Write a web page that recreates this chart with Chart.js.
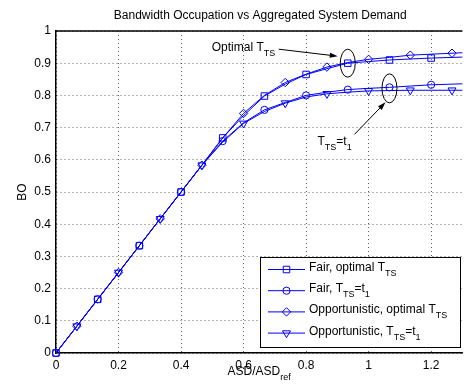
<!DOCTYPE html>
<html>
<head>
<meta charset="utf-8">
<style>
html, body { margin: 0; padding: 0; overflow: hidden; background: #fff; }
</style>
<script src="https://cdn.jsdelivr.net/npm/chart.js@4.4.1/dist/chart.umd.min.js"></script>
</head>
<body>
<canvas id="boChart" width="468" height="387"></canvas>
<script>
// ASD/ASD_ref sample points
var asd = [0, 0.0667, 0.1333, 0.2, 0.2667, 0.3333, 0.4, 0.4667, 0.5333, 0.6, 0.6667,
           0.7333, 0.8, 0.8667, 0.9333, 1.0, 1.0667, 1.1333, 1.2, 1.2667, 1.3333];

// bandwidth occupation per scheme
var fairOpt = [0, 0.0833, 0.1667, 0.25, 0.3333, 0.4167, 0.5, 0.5833, 0.668, 0.737, 0.798,
               0.835, 0.865, 0.883, 0.900, 0.905, 0.910, 0.913, 0.916, 0.918, 0.920];
var fairT1 = [0, 0.0833, 0.1667, 0.25, 0.3333, 0.4167, 0.5, 0.5833, 0.658, 0.715, 0.755,
              0.778, 0.800, 0.810, 0.818, 0.822, 0.825, 0.829, 0.833, 0.835, 0.837];
var oppOpt = [0, 0.0833, 0.1667, 0.25, 0.3333, 0.4167, 0.5, 0.5833, 0.668, 0.744, 0.800,
              0.840, 0.866, 0.888, 0.902, 0.912, 0.918, 0.925, 0.928, 0.931, 0.934];
var oppT1 = [0, 0.0833, 0.1667, 0.25, 0.3333, 0.4167, 0.5, 0.5833, 0.655, 0.713, 0.750,
             0.776, 0.795, 0.805, 0.810, 0.814, 0.815, 0.816, 0.816, 0.816, 0.816];

var xTicks = [0, 0.2, 0.4, 0.6, 0.8, 1, 1.2];
var yTicks = [0, 0.1, 0.2, 0.3, 0.4, 0.5, 0.6, 0.7, 0.8, 0.9, 1];

var BLUE = '#0000ff';
var FONT = '"Liberation Sans", Arial, Helvetica, sans-serif';

Chart.defaults.font.family = FONT;
Chart.defaults.font.size = 12;
Chart.defaults.color = '#000';

function pts(ys) {
  return ys.map(function (y, i) { return { x: asd[i], y: y }; });
}

// markers only on every other sample, like the matlab plot
function markerEvery(offset, r) {
  return function (ctx) { return ctx.dataIndex % 2 === offset ? r : 0; };
}

var series = [
  { label: 'Fair, optimal T_TS', data: fairOpt, style: 'rect', r: 4.6, rot: 0, off: 0 },
  { label: 'Fair, T_TS=t_1', data: fairT1, style: 'circle', r: 3.6, rot: 0, off: 0 },
  { label: 'Opportunistic, optimal T_TS', data: oppOpt, style: 'rectRot', r: 4.2, rot: 0, off: 1 },
  { label: 'Opportunistic, T_TS=t_1', data: oppT1, style: 'triangle', r: 4.6, rot: 180, off: 1 }
];

var legendText = [
  [['Fair, optimal T'], ['TS', 1]],
  [['Fair, T'], ['TS', 1], ['=t'], ['1', 1]],
  [['Opportunistic, optimal T'], ['TS', 1]],
  [['Opportunistic, T'], ['TS', 1], ['=t'], ['1', 1]]
];

function richWidth(ctx, parts) {
  var w = 0;
  parts.forEach(function (p) {
    ctx.font = (p[1] ? '9px ' : '12px ') + FONT;
    w += ctx.measureText(p[0]).width;
  });
  return w;
}

function drawRich(ctx, parts, x, y) {
  ctx.textAlign = 'left';
  ctx.textBaseline = 'alphabetic';
  parts.forEach(function (p) {
    ctx.font = (p[1] ? '9px ' : '12px ') + FONT;
    ctx.fillText(p[0], x, p[1] ? y + 5 : y);
    x += ctx.measureText(p[0]).width;
  });
}

function arrow(ctx, x1, y1, x2, y2) {
  var a = Math.atan2(y2 - y1, x2 - x1);
  ctx.beginPath();
  ctx.moveTo(x1, y1);
  ctx.lineTo(x2 - 6 * Math.cos(a), y2 - 6 * Math.sin(a));
  ctx.stroke();
  ctx.beginPath();
  ctx.moveTo(x2, y2);
  ctx.lineTo(x2 - 8 * Math.cos(a) + 2.6 * Math.sin(a), y2 - 8 * Math.sin(a) - 2.6 * Math.cos(a));
  ctx.lineTo(x2 - 8 * Math.cos(a) - 2.6 * Math.sin(a), y2 - 8 * Math.sin(a) + 2.6 * Math.cos(a));
  ctx.closePath();
  ctx.fill();
}

var decorations = {
  id: 'decorations',
  afterDraw: function (chart) {
    var ctx = chart.ctx;
    var area = chart.chartArea;
    var xs = chart.scales.x, ys = chart.scales.y;
    ctx.save();
    ctx.fillStyle = '#000';
    ctx.strokeStyle = '#000';

    // top edge of the axes box
    ctx.lineWidth = 1.5;
    ctx.beginPath();
    ctx.moveTo(area.left, area.top);
    ctx.lineTo(area.right, area.top);
    ctx.stroke();

    // title
    ctx.font = '12px ' + FONT;
    ctx.textAlign = 'center';
    ctx.textBaseline = 'alphabetic';
    ctx.fillText('Bandwidth Occupation vs Aggregated System Demand', (area.left + area.right) / 2 + 1, 19);

    // x label
    var xl = [['ASD/ASD'], ['ref', 1]];
    drawRich(ctx, xl, (area.left + area.right) / 2 - richWidth(ctx, xl) / 2, 375);

    // y label
    ctx.save();
    ctx.translate(25.5, (area.top + area.bottom) / 2);
    ctx.rotate(-Math.PI / 2);
    ctx.font = '12px ' + FONT;
    ctx.textAlign = 'center';
    ctx.fillText('BO', 0, 0);
    ctx.restore();

    // annotations around the optimal / t1 markers
    ctx.lineWidth = 1;
    var c1x = xs.getPixelForValue(asd[14]), c1y = ys.getPixelForValue(fairOpt[14]);
    var c2x = xs.getPixelForValue(asd[16]), c2y = ys.getPixelForValue(fairT1[16]);
    ctx.beginPath();
    ctx.ellipse(c1x, c1y, 7.5, 14, 0, 0, Math.PI * 2);
    ctx.stroke();
    ctx.beginPath();
    ctx.ellipse(c2x, c2y + 1, 7.5, 14.5, 0, 0, Math.PI * 2);
    ctx.stroke();
    arrow(ctx, c1x - 69, c1y - 14, c1x - 10, c1y - 7);
    arrow(ctx, c2x - 35, c2y + 47, c2x - 4, c2y + 15);
    drawRich(ctx, [['Optimal T'], ['TS', 1]], c1x - 136, c1y - 12);
    drawRich(ctx, [['T'], ['TS', 1], ['=t'], ['1', 1]], c2x - 72, c2y + 58);

    // legend
    var lx = 260, ly = 257, lw = 200, lh = 90;
    ctx.fillStyle = '#fff';
    ctx.fillRect(lx, ly, lw, lh);
    ctx.strokeStyle = '#000';
    ctx.lineWidth = 1;
    ctx.strokeRect(lx + 0.5, ly + 0.5, lw, lh);
    series.forEach(function (s, i) {
      var ry = ly + 12.5 + i * 21.2;
      ctx.strokeStyle = BLUE;
      ctx.lineWidth = 1;
      ctx.beginPath();
      ctx.moveTo(268, ry);
      ctx.lineTo(305, ry);
      ctx.stroke();
      ctx.fillStyle = 'rgba(0,0,0,0)';
      Chart.helpers.drawPoint(ctx, { pointStyle: s.style, radius: s.r, rotation: s.rot, borderWidth: 1 }, 286.5, ry);
      ctx.fillStyle = '#000';
      drawRich(ctx, legendText[i], 309, ry + 1.5);
    });
    ctx.restore();
  }
};

function plainLabel(v) { return String(v); }

new Chart(document.getElementById('boChart'), {
  type: 'line',
  data: {
    datasets: series.map(function (s) {
      return {
        label: s.label,
        data: pts(s.data),
        borderColor: BLUE,
        borderWidth: 1,
        backgroundColor: 'rgba(0,0,0,0)',
        pointStyle: s.style,
        pointRotation: s.rot,
        pointRadius: markerEvery(s.off, s.r),
        pointBorderColor: BLUE,
        pointBackgroundColor: 'rgba(0,0,0,0)',
        pointBorderWidth: 1,
        tension: 0,
        fill: false,
        clip: { left: 8, top: 8, right: 0, bottom: 8 }
      };
    })
  },
  options: {
    responsive: false,
    animation: false,
    events: [],
    layout: { padding: { top: 31, right: 0, left: 0, bottom: 0 } },
    plugins: { legend: { display: false }, tooltip: { enabled: false } },
    scales: {
      x: {
        type: 'linear',
        min: 0,
        max: 1.3,
        afterBuildTicks: function (scale) {
          scale.ticks = xTicks.map(function (v) { return { value: v }; });
        },
        afterFit: function (scale) { scale.height = 34; },
        ticks: { padding: 5, maxRotation: 0, autoSkip: false, callback: plainLabel },
        grid: { color: 'rgba(0,0,0,0.6)', drawTicks: false },
        border: { color: '#000', width: 1.5, dash: [1, 3] }
      },
      y: {
        type: 'linear',
        min: 0,
        max: 1,
        afterBuildTicks: function (scale) {
          scale.ticks = yTicks.map(function (v) { return { value: v }; });
        },
        afterFit: function (scale) { scale.width = 56; },
        ticks: { padding: 5, autoSkip: false, callback: plainLabel },
        grid: { color: 'rgba(0,0,0,0.6)', drawTicks: false },
        border: { color: '#000', width: 1.5, dash: [1, 3] }
      }
    }
  },
  plugins: [decorations]
});
</script>
</body>
</html>
